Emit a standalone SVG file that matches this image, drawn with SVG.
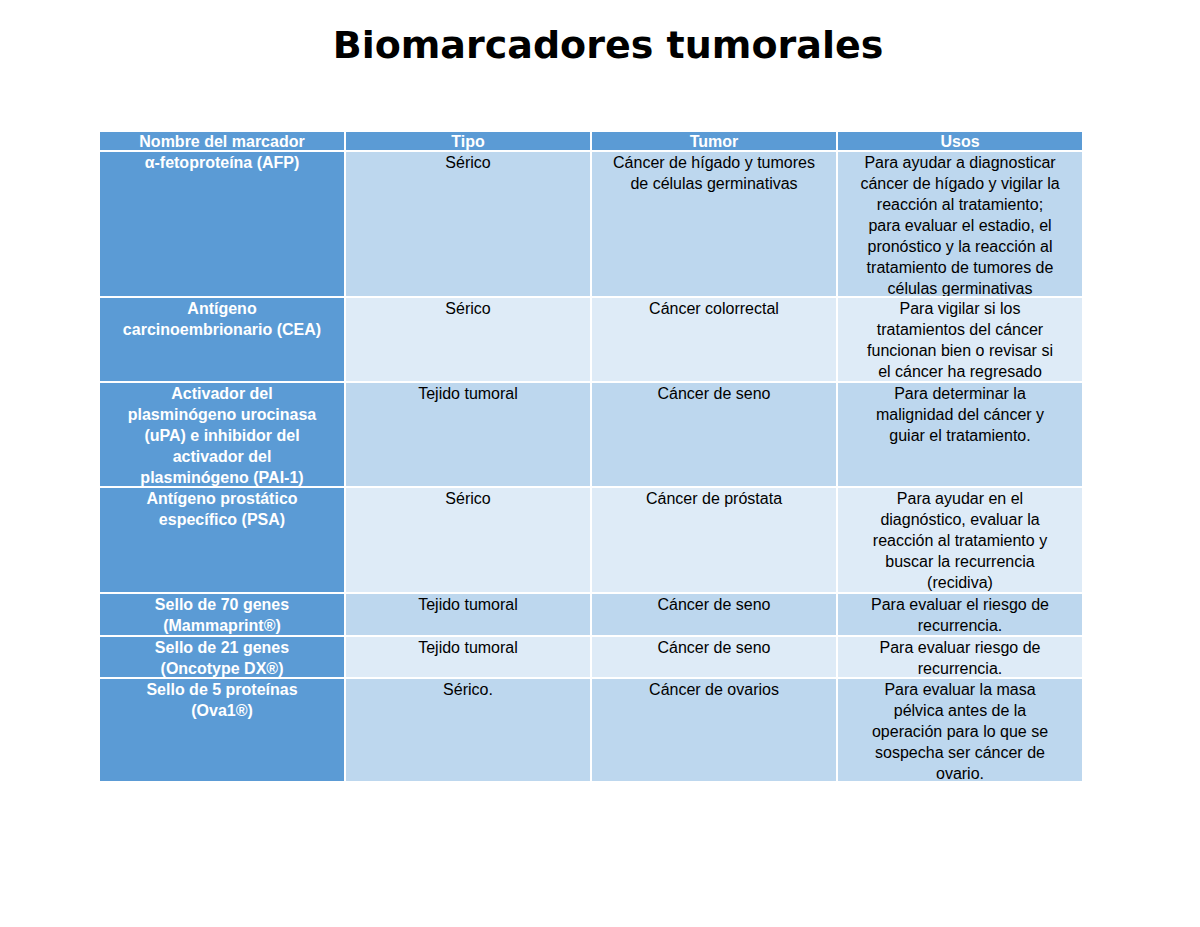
<svg xmlns="http://www.w3.org/2000/svg" width="1200" height="927" viewBox="0 0 1200 927">
<style>
.t{font-family:"Liberation Sans",Arial,sans-serif;font-size:16px;fill:#000;text-anchor:middle}
.w{fill:#fff;font-weight:bold}
.h{fill:#5B9BD5}.d{fill:#BDD7EE}.l{fill:#DEEBF7}
rect{stroke:#fff;stroke-width:2}
</style>
<rect x="0" y="0" width="1200" height="927" fill="#fff" style="stroke:none"/>
<text x="608" y="58" font-family="DejaVu Sans,sans-serif" font-weight="bold" font-size="38" text-anchor="middle">Biomarcadores tumorales</text>
<g id="header">
<rect class="h" x="99" y="131" width="246" height="20"/><rect class="h" x="345" y="131" width="246" height="20"/><rect class="h" x="591" y="131" width="246" height="20"/><rect class="h" x="837" y="131" width="246" height="20"/>
<text class="t w" x="222" y="147">Nombre del marcador</text><text class="t w" x="468" y="147">Tipo</text><text class="t w" x="714" y="147">Tumor</text><text class="t w" x="960" y="147">Usos</text>
</g>
<g id="row1">
<rect class="h" x="99" y="151" width="246" height="146"/><rect class="d" x="345" y="151" width="246" height="146"/><rect class="d" x="591" y="151" width="246" height="146"/><rect class="d" x="837" y="151" width="246" height="146"/>
<text class="t w" x="222" y="168">α-fetoproteína (AFP)</text>
<text class="t" x="468" y="168">Sérico</text>
<text class="t" x="714" y="168">Cáncer de hígado y tumores<tspan x="714" dy="21">de células germinativas</tspan></text>
<text class="t" x="960" y="168">Para ayudar a diagnosticar<tspan x="960" dy="21">cáncer de hígado y vigilar la</tspan><tspan x="960" dy="21">reacción al tratamiento;</tspan><tspan x="960" dy="21">para evaluar el estadio, el</tspan><tspan x="960" dy="21">pronóstico y la reacción al</tspan><tspan x="960" dy="21">tratamiento de tumores de</tspan><tspan x="960" dy="21">células germinativas</tspan></text>
</g>
<g id="row2">
<rect class="h" x="99" y="297" width="246" height="85"/><rect class="l" x="345" y="297" width="246" height="85"/><rect class="l" x="591" y="297" width="246" height="85"/><rect class="l" x="837" y="297" width="246" height="85"/>
<text class="t w" x="222" y="314">Antígeno<tspan x="222" dy="21">carcinoembrionario (CEA)</tspan></text>
<text class="t" x="468" y="314">Sérico</text>
<text class="t" x="714" y="314">Cáncer colorrectal</text>
<text class="t" x="960" y="314">Para vigilar si los<tspan x="960" dy="21">tratamientos del cáncer</tspan><tspan x="960" dy="21">funcionan bien o revisar si</tspan><tspan x="960" dy="21">el cáncer ha regresado</tspan></text>
</g>
<g id="row3">
<rect class="h" x="99" y="382" width="246" height="105"/><rect class="d" x="345" y="382" width="246" height="105"/><rect class="d" x="591" y="382" width="246" height="105"/><rect class="d" x="837" y="382" width="246" height="105"/>
<text class="t w" x="222" y="399">Activador del<tspan x="222" dy="21">plasminógeno urocinasa</tspan><tspan x="222" dy="21">(uPA) e inhibidor del</tspan><tspan x="222" dy="21">activador del</tspan><tspan x="222" dy="21">plasminógeno (PAI-1)</tspan></text>
<text class="t" x="468" y="399">Tejido tumoral</text>
<text class="t" x="714" y="399">Cáncer de seno</text>
<text class="t" x="960" y="399">Para determinar la<tspan x="960" dy="21">malignidad del cáncer y</tspan><tspan x="960" dy="21">guiar el tratamiento.</tspan></text>
</g>
<g id="row4">
<rect class="h" x="99" y="487" width="246" height="106"/><rect class="l" x="345" y="487" width="246" height="106"/><rect class="l" x="591" y="487" width="246" height="106"/><rect class="l" x="837" y="487" width="246" height="106"/>
<text class="t w" x="222" y="504">Antígeno prostático<tspan x="222" dy="21">específico (PSA)</tspan></text>
<text class="t" x="468" y="504">Sérico</text>
<text class="t" x="714" y="504">Cáncer de próstata</text>
<text class="t" x="960" y="504">Para ayudar en el<tspan x="960" dy="21">diagnóstico, evaluar la</tspan><tspan x="960" dy="21">reacción al tratamiento y</tspan><tspan x="960" dy="21">buscar la recurrencia</tspan><tspan x="960" dy="21">(recidiva)</tspan></text>
</g>
<g id="row5">
<rect class="h" x="99" y="593" width="246" height="43"/><rect class="d" x="345" y="593" width="246" height="43"/><rect class="d" x="591" y="593" width="246" height="43"/><rect class="d" x="837" y="593" width="246" height="43"/>
<text class="t w" x="222" y="610">Sello de 70 genes<tspan x="222" dy="21">(Mammaprint®)</tspan></text>
<text class="t" x="468" y="610">Tejido tumoral</text>
<text class="t" x="714" y="610">Cáncer de seno</text>
<text class="t" x="960" y="610">Para evaluar el riesgo de<tspan x="960" dy="21">recurrencia.</tspan></text>
</g>
<g id="row6">
<rect class="h" x="99" y="636" width="246" height="42"/><rect class="l" x="345" y="636" width="246" height="42"/><rect class="l" x="591" y="636" width="246" height="42"/><rect class="l" x="837" y="636" width="246" height="42"/>
<text class="t w" x="222" y="653">Sello de 21 genes<tspan x="222" dy="21">(Oncotype DX®)</tspan></text>
<text class="t" x="468" y="653">Tejido tumoral</text>
<text class="t" x="714" y="653">Cáncer de seno</text>
<text class="t" x="960" y="653">Para evaluar riesgo de<tspan x="960" dy="21">recurrencia.</tspan></text>
</g>
<g id="row7">
<rect class="h" x="99" y="678" width="246" height="104"/><rect class="d" x="345" y="678" width="246" height="104"/><rect class="d" x="591" y="678" width="246" height="104"/><rect class="d" x="837" y="678" width="246" height="104"/>
<text class="t w" x="222" y="695">Sello de 5 proteínas<tspan x="222" dy="21">(Ova1®)</tspan></text>
<text class="t" x="468" y="695">Sérico.</text>
<text class="t" x="714" y="695">Cáncer de ovarios</text>
<text class="t" x="960" y="695">Para evaluar la masa<tspan x="960" dy="21">pélvica antes de la</tspan><tspan x="960" dy="21">operación para lo que se</tspan><tspan x="960" dy="21">sospecha ser cáncer de</tspan><tspan x="960" dy="21">ovario.</tspan></text>
</g>
</svg>
